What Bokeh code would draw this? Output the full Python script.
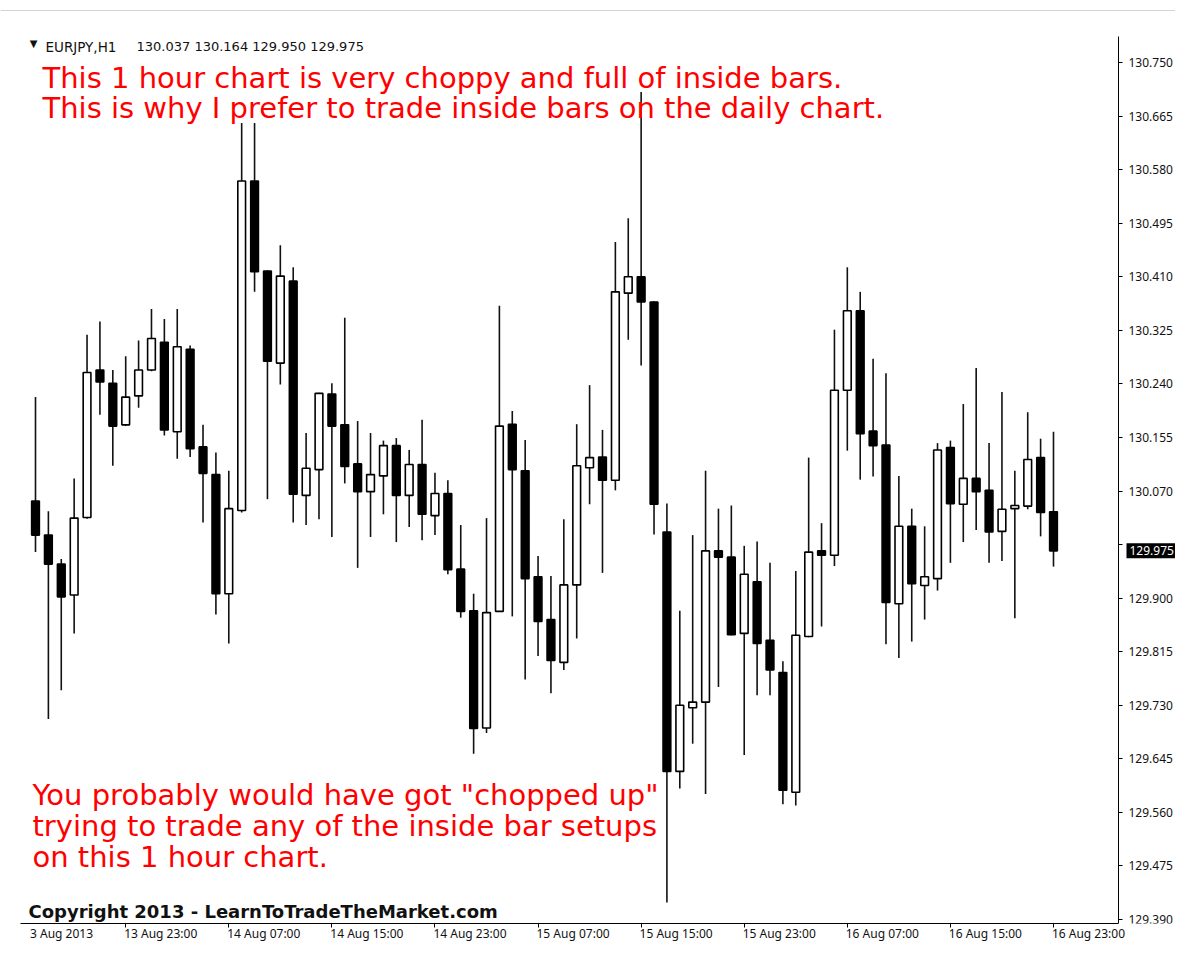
from bokeh.plotting import figure
from bokeh.models import ColumnDataSource, FixedTicker, PrintfTickFormatter, Range1d, Label, Span
from bokeh.embed import file_html
from bokeh.resources import INLINE

# ---------------- data (EURJPY, H1, 13 Aug 16:00 .. 16 Aug 23:00) ----------------
open_ = [130.054, 130.000, 129.954, 129.905, 130.028, 130.262, 130.241, 130.175, 130.221, 130.262,
         130.306, 130.164, 130.295, 130.140, 130.096, 129.907, 130.039, 130.562, 130.419, 130.273,
         130.403, 130.063, 130.104, 130.224, 130.175, 130.113, 130.069, 130.094, 130.142, 130.063,
         130.112, 130.031, 130.066, 129.946, 129.880, 129.694, 129.879, 130.176, 130.102, 129.934,
         129.866, 129.798, 129.921, 130.107, 130.124, 130.087, 130.384, 130.410, 130.370, 130.005,
         129.625, 129.726, 129.735, 129.975, 129.965, 129.844, 129.926, 129.833, 129.782, 129.592,
         129.839, 129.975, 129.968, 130.230, 130.356, 130.165, 130.143, 129.891, 130.014, 129.920,
         129.931, 130.139, 130.049, 130.090, 130.071, 130.006, 130.042, 130.046, 130.123, 130.037]
high = [130.219, 130.038, 129.962, 130.090, 130.318, 130.339, 130.262, 130.284, 130.309, 130.359,
        130.343, 130.359, 130.301, 130.175, 130.131, 130.102, 130.654, 130.654, 130.420, 130.460,
        130.425, 130.162, 130.226, 130.241, 130.345, 130.181, 130.162, 130.150, 130.154, 130.135,
        130.183, 130.099, 130.087, 130.016, 129.907, 130.027, 130.364, 130.197, 130.151, 129.967,
        129.935, 130.025, 130.176, 130.238, 130.167, 130.465, 130.503, 130.703, 130.371, 130.050,
        129.880, 130.000, 130.102, 130.042, 130.047, 129.983, 129.990, 129.956, 129.800, 129.943,
        130.123, 130.019, 130.326, 130.425, 130.386, 130.280, 130.257, 130.094, 130.042, 130.014,
        130.146, 130.150, 130.208, 130.265, 130.146, 130.227, 130.102, 130.195, 130.153, 130.164]
low = [129.973, 129.708, 129.754, 129.844, 130.026, 130.191, 130.110, 130.173, 130.202, 130.260,
       130.158, 130.121, 130.124, 130.020, 129.874, 129.828, 130.036, 130.386, 130.057, 130.239,
       130.020, 130.016, 130.025, 129.997, 130.082, 129.948, 129.997, 130.033, 129.989, 130.013,
       129.992, 130.000, 129.938, 129.869, 129.653, 129.686, 129.878, 129.871, 129.771, 129.808,
       129.749, 129.786, 129.836, 130.049, 129.940, 130.071, 130.310, 130.269, 130.001, 129.417,
       129.598, 129.669, 129.589, 129.759, 129.841, 129.651, 129.746, 129.746, 129.573, 129.571,
       129.838, 129.855, 129.951, 130.134, 130.088, 130.093, 129.827, 129.805, 129.831, 129.866,
       129.912, 129.956, 129.989, 130.008, 129.956, 129.959, 129.868, 130.041, 129.998, 129.950]
close = [130.000, 129.954, 129.902, 130.027, 130.258, 130.243, 130.173, 130.219, 130.262, 130.312,
         130.167, 130.299, 130.137, 130.098, 129.907, 130.042, 130.562, 130.418, 130.276, 130.411,
         130.065, 130.106, 130.225, 130.173, 130.109, 130.069, 130.096, 130.142, 130.063, 130.112,
         130.033, 130.066, 129.945, 129.879, 129.693, 129.877, 130.173, 130.104, 129.931, 129.863,
         129.801, 129.921, 130.110, 130.123, 130.087, 130.386, 130.410, 130.370, 130.049, 129.625,
         129.730, 129.735, 129.975, 129.965, 129.842, 129.938, 129.828, 129.786, 129.595, 129.841,
         129.973, 129.968, 130.230, 130.356, 130.161, 130.142, 129.893, 130.014, 129.923, 129.934,
         130.135, 130.050, 130.090, 130.069, 130.005, 130.041, 130.047, 130.120, 130.036, 129.975]

x_tick_bars = [7, 15, 23, 31, 39, 47, 55, 63, 71, 79]
x_tick_labels = ["13 Aug 23:00", "14 Aug 07:00", "14 Aug 15:00", "14 Aug 23:00", "15 Aug 07:00",
                 "15 Aug 15:00", "15 Aug 23:00", "16 Aug 07:00", "16 Aug 15:00", "16 Aug 23:00"]
first_date_label = "3 Aug 2013"
y_ticks = [130.750, 130.665, 130.580, 130.495, 130.410, 130.325, 130.240, 130.155, 130.070,
           129.985, 129.900, 129.815, 129.730, 129.645, 129.560, 129.475, 129.390]
symbol = "EURJPY,H1"

# ---------------- layout (screen px) ----------------
W, H = 1175, 945
FRAME_T, FRAME_B = 8, 923
CHART_L, CHART_T = 20, 36                      # visible chart window corner
AXIS_PX = 1118                                 # x of the price-scale line
BAR0_PX, BAR_PX = 35.0, 12.886                 # first bar centre, px per bar
TOP_PRICE, TOP_PY = 130.750, 62.0              # top price tick
BOT_PRICE, BOT_PY = 129.390, 919.0             # bottom price tick
PX_PER_PRICE = (BOT_PY - TOP_PY) / (TOP_PRICE - BOT_PRICE)
TXT_DROP = 5                                    # alphabetic labels render this much lower


def fx(px):
    return (px - BAR0_PX) / BAR_PX


def fy(py):
    return TOP_PRICE - (py - TOP_PY) / PX_PER_PRICE


x_start, x_end = fx(0), fx(W)
y_end, y_start = fy(FRAME_T), fy(FRAME_B)

p = figure(width=W, height=H, output_backend="svg", toolbar_location=None,
           x_range=Range1d(x_start, x_end), y_range=Range1d(y_start, y_end),
           y_axis_location="right",
           min_border_left=0, min_border_right=0,
           min_border_top=FRAME_T, min_border_bottom=H - FRAME_B)
p.outline_line_color = None
p.xgrid.visible = False
p.ygrid.visible = False
p.background_fill_color = "white"
p.border_fill_color = "white"

# thin grey window edge at the top of the screenshot
p.add_layout(Span(location=fy(10), dimension="width", line_color="#d4d4d4", line_width=1))

# ---------------- candles ----------------
xs = list(range(len(open_)))
src = ColumnDataSource(dict(
    x=xs, open=open_, high=high, low=low, close=close,
    top=[max(o, c) for o, c in zip(open_, close)],
    bottom=[min(o, c) for o, c in zip(open_, close)],
    fill=["white" if c >= o else "black" for o, c in zip(open_, close)],
))
p.segment(x0="x", y0="low", x1="x", y1="high", source=src, line_color="#111111", line_width=1.6)
p.vbar(x="x", width=0.6, top="top", bottom="bottom", source=src,
       fill_color="fill", line_color="black", line_width=1.6)

# ---------------- axes ----------------
AX_FONT = "Noto Sans"
yax = p.yaxis[0]
yax.fixed_location = fx(AXIS_PX)
yax.bounds = (y_start, fy(CHART_T))
yax.ticker = FixedTicker(ticks=y_ticks)
yax.formatter = PrintfTickFormatter(format="%.3f")
yax.major_label_overrides = {129.985: ""}      # hidden behind the current-price box
yax.axis_line_color = "black"
yax.major_tick_in = 0
yax.major_tick_out = 4
yax.minor_tick_line_color = None
yax.major_label_standoff = 6
yax.major_label_text_font = AX_FONT
yax.major_label_text_font_size = "12px"
yax.major_label_text_color = "#111111"

LABEL_SHIFT = 35.0 / BAR_PX          # labels sit to the right of their tick mark
label_pos = [round(fx(61), 3)] + [round(t + LABEL_SHIFT, 3) for t in x_tick_bars]
overrides = {pos: lab for pos, lab in zip(label_pos, [first_date_label] + x_tick_labels)}
xax = p.xaxis[0]
xax.bounds = (fx(CHART_L), fx(AXIS_PX))
xax.ticker = FixedTicker(ticks=label_pos, minor_ticks=x_tick_bars)
xax.major_label_overrides = overrides
xax.axis_line_color = "black"
xax.major_tick_line_color = None
xax.major_tick_in = 0
xax.major_tick_out = 0
xax.minor_tick_in = 0
xax.minor_tick_out = 4
xax.minor_tick_line_color = "black"
xax.major_label_standoff = -3
xax.major_label_text_font = AX_FONT
xax.major_label_text_font_size = "12px"
xax.major_label_text_color = "#111111"

# current price marker on the price scale
p.add_layout(Label(x=fx(AXIS_PX + 8), y=close[-1], text=f"{close[-1]:.3f}",
                   text_baseline="middle", text_align="left", text_font=AX_FONT,
                   text_font_size="12px", text_color="white",
                   background_fill_color="black", padding=3))

# ---------------- header & annotations ----------------
HDR_FONT = "DejaVu Sans"
p.add_layout(Label(x=fx(33), y=fy(48 - TXT_DROP), text="\u25bc", text_baseline="alphabetic",
                   text_align="center", text_font=HDR_FONT, text_font_size="10px",
                   text_color="#111111"))
p.add_layout(Label(x=fx(45), y=fy(51 - TXT_DROP), text=symbol, text_baseline="alphabetic",
                   text_font=HDR_FONT, text_font_size="13.5px", text_color="#111111"))
p.add_layout(Label(x=fx(136), y=fy(51 - TXT_DROP),
                   text=f"{open_[-1]:.3f} {high[-1]:.3f} {low[-1]:.3f} {close[-1]:.3f}",
                   text_baseline="alphabetic", text_font=HDR_FONT, text_font_size="13px",
                   text_color="#111111"))

RED = "#ff0000"
TXT_FONT = "DejaVu Sans"
for txt, (px, py) in [("This 1 hour chart is very choppy and full of inside bars.", (42, 82)),
                      ("This is why I prefer to trade inside bars on the daily chart.", (42, 112)),
                      ('You probably would have got "chopped up"', (32, 799)),
                      ("trying to trade any of the inside bar setups", (32, 830)),
                      ("on this 1 hour chart.", (32, 861))]:
    p.add_layout(Label(x=fx(px), y=fy(py - TXT_DROP), text=txt, text_baseline="alphabetic",
                       text_font=TXT_FONT, text_font_size="29px", text_color=RED))

p.add_layout(Label(x=fx(28), y=fy(FRAME_B - 7 - TXT_DROP),
                   text="Copyright 2013 - LearnToTradeTheMarket.com",
                   text_baseline="alphabetic", text_font=TXT_FONT, text_font_size="18px",
                   text_font_style="bold", text_color="#111111"))

open("out.html", "w").write(file_html(p, INLINE))
